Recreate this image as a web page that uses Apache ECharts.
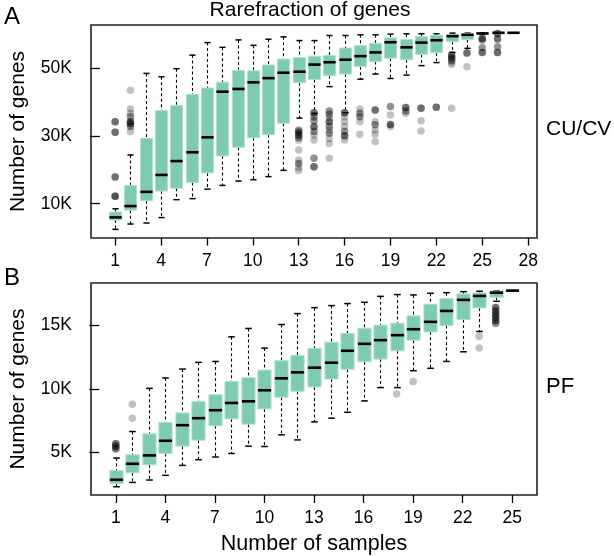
<!DOCTYPE html>
<html><head><meta charset="utf-8">
<script src="https://cdn.jsdelivr.net/npm/echarts@6/dist/echarts.min.js"></script>
<style>html,body{margin:0;padding:0;background:#fff}#c{width:614px;height:556px}</style>
</head><body><div id="c"></div>
<script>
// ---- Panel A (CU/CV), values in thousands of genes ----
const lowA  = [2.43,4.0,4.3,5.9,11.2,11.5,14.3,15.4,16.7,17.1,18.0,19.85,35.3,36.7,44.6,36.9,46.8,48.3,47.0,48.0,50.8,51.7,54.7,55.9,60.0,60.4,60.5];
const q1A   = [5.18,8.1,10.9,13.75,14.6,16.3,19.1,24.1,26.65,29.5,30.4,33.8,45.75,46.7,47.8,48.3,50.5,52.0,53.0,52.55,54.1,54.6,57.9,58.5,60.1,60.4,60.5];
const medA  = [5.97,9.3,13.5,18.5,22.6,25.2,29.6,43.1,43.9,45.85,47.1,48.7,49.0,51.1,51.8,52.55,53.6,54.7,57.7,56.2,57.6,58.3,59.5,59.9,60.3,60.5,60.5];
const q3A   = [7.55,15.4,29.3,37.5,39.06,42.3,44.2,45.9,49.4,49.3,51.0,52.75,53.2,53.6,53.8,56.0,56.7,57.4,59.0,58.5,59.4,59.8,60.0,60.3,60.4,60.5,60.5];
const highA = [8.5,24.4,48.5,47.5,49.9,53.9,57.6,56.2,58.4,56.8,58.6,59.3,58.2,58.2,59.7,59.7,59.9,59.9,60.1,60.2,60.2,60.2,60.4,60.4,60.5,60.5,60.5];
const outA = [
 [1,34.2],[1,34.2],[1,34.2],[1,31.1],[1,31.1],[1,31.1],[1,17.9],[1,17.9],[1,17.9],[1,12.2],[1,12.2],[1,12.2],[1,12.2],
 [2,43.5],[2,38.0],[2,36.7],[2,35.7],[2,35.7],[2,34.2],[2,34.2],[2,34.2],[2,33.6],[2,33.6],[2,33.6],[2,32.8],[2,32.8],[2,31.3],
 [13,31.7],[13,31.7],[13,31.1],[13,31.1],[13,31.1],[13,30.3],[13,30.3],[13,30.3],[13,29.5],[13,29.5],[13,28.8],[13,25.9],[13,22.9],[13,21.9],[13,21.9],[13,20.7],[13,19.8],
 [14,36.9],[14,36.9],[14,36.9],[14,35.7],[14,35.7],[14,34.5],[14,34.5],[14,32.75],[14,32.75],[14,32.75],[14,31.3],[14,31.3],[14,30.3],[14,28.8],[14,23.4],[14,23.4],[14,20.9],[14,20.9],[14,20.9],
 [15,37.4],[15,37.4],[15,36.4],[15,36.4],[15,35.4],[15,34.2],[15,34.2],[15,34.2],[15,32.8],[15,32.8],[15,31.8],[15,30.8],[15,30.8],[15,29.3],[15,27.8],[15,23.4],
 [16,36.9],[16,36.9],[16,36.9],[16,35.7],[16,34.2],[16,32.8],[16,31.3],[16,31.3],[16,30.1],[16,30.1],[16,30.1],[16,28.8],
 [17,38.0],[17,36.7],[17,36.7],[17,35.7],[17,35.7],[17,34.2],[17,30.5],
 [18,37.7],[18,37.7],[18,37.7],[18,34.2],[18,33.3],[18,33.3],[18,31.8],[18,30.5],[18,28.3],
 [19,38.7],[19,38.7],[19,36.2],[19,33.4],[19,33.4],[19,33.4],[19,32.8],
 [20,38.4],[20,38.4],[20,38.4],[20,37.4],[20,37.4],[20,36.7],
 [21,38.2],[21,38.2],[21,38.2],[21,34.5],[21,31.5],
 [22,38.5],[22,38.5],[22,38.5],
 [23,53.9],[23,53.9],[23,53.9],[23,53.1],[23,53.1],[23,53.1],[23,52.4],[23,52.4],[23,51.8],[23,51.2],[23,38.2],
 [24,54.5],[24,54.5],[24,54.5],[24,50.5],
 [25,58.8],[25,58.8],[25,58.8],[25,58.4],[25,58.4],[25,56.1],[25,56.1],[25,54.7],[25,54.7],[25,54.7],
 [26,60.3],[26,60.3],[26,60.3],[26,58.7],[26,58.7],[26,58.7],[26,56.4],[26,56.4],[26,54.7],[26,54.7],[26,54.7]
];
const ticksXA = [1,4,7,10,13,16,19,22,25,28];
const ticksYA = [10,30,50];

// ---- Panel B (PF) ----
const lowB  = [2.30,2.64,2.83,3.2,3.98,4.43,4.64,4.92,5.50,5.47,6.39,5.99,7.41,7.70,8.17,9.06,10.11,10.11,11.44,11.63,12.17,12.93,14.53,16.91,17.75];
const q1B   = [2.57,3.40,4.03,4.92,5.50,5.97,7.10,7.64,7.23,8.43,9.35,9.82,10.16,10.79,11.55,12.15,12.36,13.01,13.85,14.50,15.0,15.47,16.39,17.23,17.75];
const medB  = [2.85,4.11,4.77,5.92,7.15,7.70,8.33,8.90,9.03,9.90,10.84,11.31,11.68,12.07,13.01,13.56,13.85,14.24,14.71,15.29,16.15,17.02,17.33,17.59,17.75];
const q3B   = [3.59,4.82,6.47,7.36,8.12,9.01,9.56,10.58,10.89,11.49,12.23,12.65,13.2,13.69,14.37,14.79,15.03,15.18,15.76,16.68,17.12,17.49,17.57,17.7,17.75];
const highB = [4.56,6.65,10.05,10.87,11.57,12.1,12.17,14.11,14.77,13.22,15.08,15.94,16.41,16.57,16.73,16.83,17.3,17.44,17.41,17.54,17.59,17.67,17.7,17.72,17.75];
const outB = [
 [1,5.68],[1,5.68],[1,5.68],[1,5.5],[1,5.5],[1,5.5],[1,5.3],[1,5.3],[1,5.3],
 [2,8.8],[2,7.7],
 [18,9.6],[19,10.6],[23,14.16],[23,13.22],
 [24,16.42],[24,16.42],[24,16.42],[24,16.15],[24,16.15],[24,16.15],[24,15.89],[24,15.89],[24,15.89],
 [24,15.63],[24,15.63],[24,15.63],[24,15.37],[24,15.37],[24,15.37],[24,15.16],[24,15.16]
];
const ticksXB = [1,4,7,10,13,16,19,22,25];
const ticksYB = [5,10,15];

const FONT = "'Liberation Sans', Arial, sans-serif";
const FILL = '#7fcbb0';

function toRows(lo,q1,md,q3,hi){ return lo.map((v,i)=>[i+1,lo[i],q1[i],md[i],q3[i],hi[i]]); }

function renderBox(params, api){
  const x = api.value(0);
  const ys = [1,2,3,4,5].map(k => api.coord([x, api.value(k)])[1]);
  const cx = Math.round(api.coord([x, api.value(3)])[0]) + 0.5;
  const hw = api.size([0.8, 0])[0] / 2;
  const cw = hw / 2;
  const [pLow,pQ1,pMed,pQ3,pHigh] = ys;
  const dash = {stroke:'#000', lineWidth:1.1, lineDash:[3,2.5]};
  const cap = {stroke:'#000', lineWidth:1.5};
  return {type:'group', children:[
    {type:'line', shape:{x1:cx,y1:pHigh,x2:cx,y2:pQ3}, style:dash},
    {type:'line', shape:{x1:cx,y1:pQ1,x2:cx,y2:pLow}, style:dash},
    {type:'line', shape:{x1:cx-cw,y1:pHigh,x2:cx+cw,y2:pHigh}, style:cap},
    {type:'line', shape:{x1:cx-cw,y1:pLow,x2:cx+cw,y2:pLow}, style:cap},
    {type:'rect', shape:{x:cx-hw,y:pQ3,width:2*hw,height:pQ1-pQ3}, style:{fill:FILL, stroke:'#b0e1cf', lineWidth:1}},
    {type:'line', shape:{x1:cx-hw,y1:pMed,x2:cx+hw,y2:pMed}, style:{stroke:'#000', lineWidth:2.6}}
  ]};
}

function xAxisCfg(grid, min, max, ticks, name){
  return {type:'value', gridIndex:grid, min:min, max:max,
    axisLine:{show:false}, splitLine:{show:false},
    axisTick:{show:true, customValues:ticks, length:8, lineStyle:{color:'#000', width:1.3}},
    axisLabel:{customValues:ticks, fontSize:17.5, color:'#000', fontFamily:FONT, margin:14},
    name:name||'', nameLocation:'middle', nameGap:38,
    nameTextStyle:{fontSize:21.5, color:'#000', fontFamily:FONT}};
}
function yAxisCfg(grid, min, max, ticks){
  return {type:'value', gridIndex:grid, min:min, max:max,
    axisLine:{show:false}, splitLine:{show:false},
    axisTick:{show:true, customValues:ticks, length:10, lineStyle:{color:'#000', width:1.3}},
    axisLabel:{customValues:ticks, fontSize:17.5, color:'#000', fontFamily:FONT, margin:19, formatter:v=>v+'K'},
    name:'Number of genes', nameLocation:'middle', nameGap:62,
    nameTextStyle:{fontSize:21, color:'#000', fontFamily:FONT}};
}

const chart = echarts.init(document.getElementById('c'), null, {renderer:'canvas'});
chart.setOption({
  animation:false,
  backgroundColor:'#fff',
  title:[
    {text:'Rarefraction of genes', left:310, top:0, textAlign:'center', padding:0, textStyle:{fontSize:21, fontWeight:'normal', color:'#000', fontFamily:FONT}},
    {text:'A', left:4, top:5, padding:0, textStyle:{fontSize:24, fontWeight:'normal', color:'#000', fontFamily:FONT}},
    {text:'B', left:4, top:266, padding:0, textStyle:{fontSize:24, fontWeight:'normal', color:'#000', fontFamily:FONT}},
    {text:'CU/CV', left:546, top:119, padding:0, textStyle:{fontSize:21, fontWeight:'normal', color:'#000', fontFamily:FONT}},
    {text:'PF', left:546, top:376, padding:0, textStyle:{fontSize:22, fontWeight:'normal', color:'#000', fontFamily:FONT}}
  ],
  grid:[
    {left:83, top:25, width:454, height:213, show:true, borderColor:'#222', borderWidth:1.6, backgroundColor:'transparent'},
    {left:83, top:283, width:454, height:213, show:true, borderColor:'#222', borderWidth:1.6, backgroundColor:'transparent'}
  ],
  xAxis:[
    xAxisCfg(0, -0.58, 28.58, ticksXA),
    xAxisCfg(1, -0.5, 26.5, ticksXB, 'Number of samples')
  ],
  yAxis:[
    yAxisCfg(0, -0.13, 62.8, ticksYA),
    yAxisCfg(1, 1.65, 18.35, ticksYB)
  ],
  series:[
    {type:'custom', xAxisIndex:0, yAxisIndex:0, data:toRows(lowA,q1A,medA,q3A,highA), encode:{x:0, y:[1,2,3,4,5]}, renderItem:renderBox, z:2},
    {type:'scatter', xAxisIndex:0, yAxisIndex:0, data:outA, symbolSize:7.5, itemStyle:{color:'rgba(0,0,0,0.3)'}, z:3},
    {type:'custom', xAxisIndex:1, yAxisIndex:1, data:toRows(lowB,q1B,medB,q3B,highB), encode:{x:0, y:[1,2,3,4,5]}, renderItem:renderBox, z:2},
    {type:'scatter', xAxisIndex:1, yAxisIndex:1, data:outB, symbolSize:7.5, itemStyle:{color:'rgba(0,0,0,0.3)'}, z:3}
  ]
});
</script>
</body></html>
